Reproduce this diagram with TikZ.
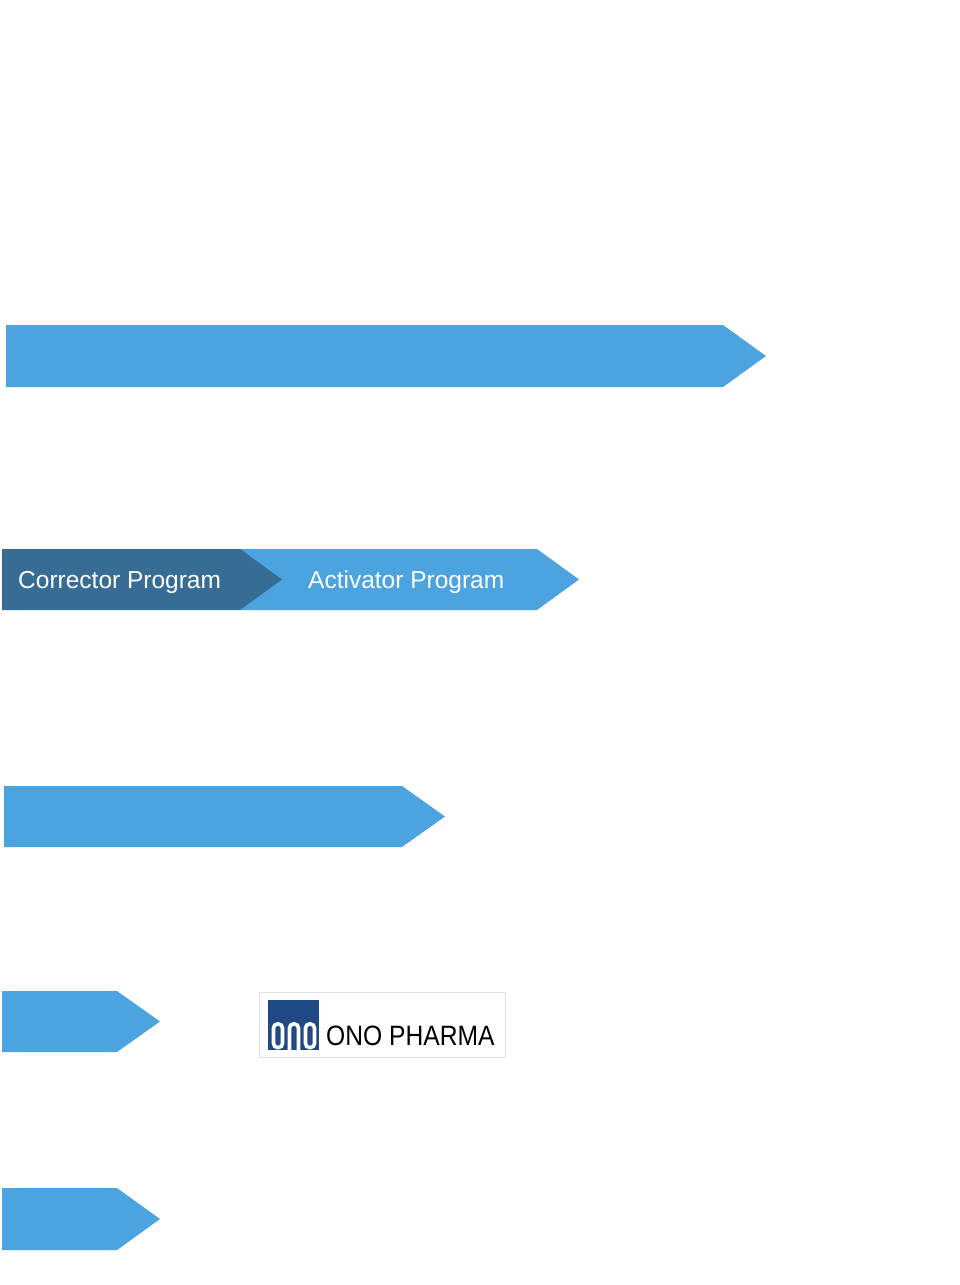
\documentclass[tikz,border=0pt]{standalone}
\usepackage{fontspec}
\setmainfont{Liberation Sans}
\definecolor{barblue}{HTML}{4BA3E0}
\definecolor{bardark}{HTML}{376C94}
\definecolor{onoblue}{HTML}{1F4A85}
\begin{document}
\begin{tikzpicture}[x=1pt,y=-1pt]
\tikzset{barlabel/.style={anchor=base west,inner sep=0pt,text=white,font=\fontsize{24.5}{28}\selectfont},
  onoletter/.style={white,line width=3.6pt,rounded corners=4pt}}
\useasboundingbox (0,0) rectangle (960,1285);
% plain bars
\foreach \l/\r/\t/\b in {6/723/325/387,4/402/786/847,2/117/991/1052,2/117/1188/1250}
  \fill[barblue] (\l,\t) -- (\r,\t) -- ({\r+43},{(\t+\b)/2}) -- (\r,\b) -- (\l,\b) -- cycle;
% corrector / activator
\fill[barblue] (240,549) -- (537,549) -- (579,579.5) -- (537,610) -- (240,610) -- cycle;
\fill[bardark] (2,549) -- (240,549) -- (282,579.5) -- (240,610) -- (2,610) -- cycle;
\node[barlabel] (corrector) at (18,588) {Corrector Program};
\node[barlabel] (activator) at (308,588) {Activator Program};
% logo
\draw[black!12,fill=white] (259,992) rectangle (505,1057);
\fill[onoblue] (268,1000) rectangle (319,1050);
\draw[onoletter] (273.5,1047.5) rectangle (282.5,1024);
\draw[onoletter] (289.5,1050) -- (289.5,1024) -- (298.5,1024) -- (298.5,1050);
\draw[onoletter] (305.5,1047.5) rectangle (314.5,1024);
\node[anchor=base west,inner sep=0pt,font=\fontsize{28}{30}\selectfont] (onotext) at (326,1045) {\scalebox{0.88}[1]{ONO PHARMA}};
\end{tikzpicture}
\end{document}
